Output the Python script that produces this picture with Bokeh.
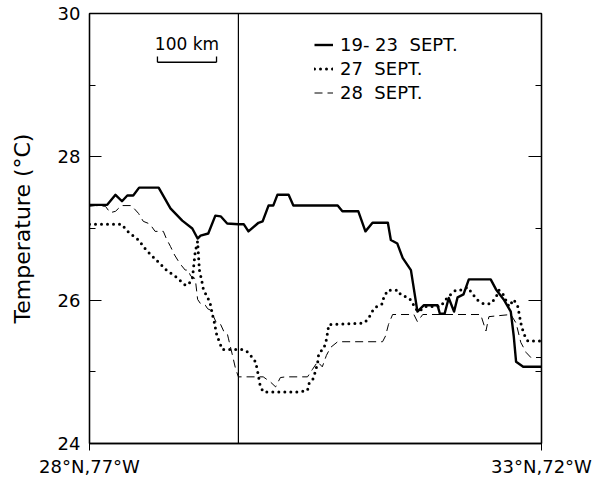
from bokeh.plotting import figure
from bokeh.models import FixedTicker, LinearAxis, Span, Legend, LegendItem, Label, Range1d
from bokeh.embed import file_html
from bokeh.resources import INLINE

# distance along the section (km from 28N,77W) and temperature (deg C)
km_sept19_23 = [0, 30, 44, 55, 64, 74, 84, 117, 137, 157, 174, 183, 188, 201, 213, 222, 233, 252, 261, 269,
                286, 293, 303, 311, 318, 337, 345, 420, 428, 455, 467, 479, 505, 510, 521, 530, 544, 552, 555,
                566, 589, 593, 601, 608, 617, 623, 633, 642, 679, 688, 701, 713, 718, 722, 734, 765]
t_sept19_23 = [27.33, 27.33, 27.47, 27.38, 27.46, 27.46, 27.57, 27.57, 27.28, 27.11, 27.00, 26.86, 26.90, 26.93,
               27.18, 27.17, 27.07, 27.06, 27.06, 26.96, 27.08, 27.10, 27.32, 27.32, 27.47, 27.47, 27.32, 27.32,
               27.24, 27.24, 26.96, 27.08, 27.08, 26.84, 26.79, 26.59, 26.42, 26.00, 25.84, 25.93, 25.93, 25.81,
               25.81, 26.03, 25.84, 26.04, 26.08, 26.29, 26.29, 26.15, 26.01, 25.84, 25.50, 25.14, 25.07, 25.07]

km_sept27 = [0, 54, 66, 83, 96, 113, 130, 147, 162, 166, 174, 179, 183, 186, 190, 193, 200, 205, 208, 211, 215,
             220, 225, 259, 269, 281, 284, 289, 294, 352, 369, 371, 379, 386, 388, 396, 400, 403, 405, 464, 471,
             476, 481, 490, 496, 498, 505, 522, 527, 539, 544, 552, 557, 569, 594, 606, 620, 628, 640, 649, 657,
             667, 679, 688, 693, 700, 710, 718, 725, 730, 735, 742, 765]
t_sept27 = [27.06, 27.06, 26.95, 26.84, 26.70, 26.56, 26.42, 26.32, 26.21, 26.21, 26.29, 26.68, 26.82, 26.42,
            26.27, 26.14, 26.04, 25.93, 25.80, 25.70, 25.53, 25.41, 25.31, 25.31, 25.27, 25.14, 25.03, 24.80,
            24.72, 24.72, 24.74, 24.83, 24.91, 25.12, 25.26, 25.32, 25.41, 25.55, 25.66, 25.68, 25.73, 25.80,
            25.88, 25.93, 25.95, 26.04, 26.14, 26.14, 26.07, 26.04, 26.00, 25.88, 25.84, 25.91, 25.91, 26.04,
            26.14, 26.14, 26.18, 26.08, 26.00, 25.95, 25.95, 26.04, 26.14, 26.08, 25.91, 26.01, 25.91, 25.68,
            25.53, 25.43, 25.43]

km_sept28 = [0, 10, 27, 35, 44, 54, 71, 83, 91, 100, 105, 111, 125, 130, 137, 144, 150, 156, 162, 167, 171, 179,
             183, 188, 196, 200, 205, 210, 215, 222, 227, 233, 235, 242, 247, 252, 294, 306, 315, 323, 332, 369,
             377, 386, 394, 401, 408, 420, 496, 501, 506, 513, 549, 555, 564, 662, 671, 676, 713, 722, 730, 739,
             747, 765]
t_sept28 = [27.31, 27.32, 27.31, 27.22, 27.24, 27.32, 27.32, 27.21, 27.10, 27.07, 27.03, 26.96, 26.96, 26.86,
            26.75, 26.63, 26.55, 26.48, 26.42, 26.42, 26.34, 26.30, 26.01, 25.95, 25.93, 25.88, 25.86, 25.77,
            25.68, 25.66, 25.57, 25.54, 25.47, 25.23, 25.05, 24.93, 24.93, 24.86, 24.79, 24.92, 24.93, 24.93,
            25.03, 25.14, 25.07, 25.23, 25.34, 25.42, 25.42, 25.50, 25.66, 25.80, 25.80, 25.70, 25.80, 25.80,
            25.57, 25.77, 25.80, 25.68, 25.41, 25.27, 25.20, 25.20]

series_labels = ["19- 23  SEPT.", "27  SEPT.", "28  SEPT."]
y_major_ticks = [24, 26, 28, 30]
y_minor_ticks = [25, 27, 29]
x_end_km = 765
x_tick_labels = {0: "28°N,77°W", 765: "33°N,72°W"}
divider_km = 252
scale_km = 100

FONT = "DejaVu Sans"

p = figure(width=596, height=479, output_backend="svg", toolbar_location=None,
           x_range=Range1d(0, x_end_km), y_range=Range1d(24, 30),
           min_border_left=89, min_border_right=55, min_border_top=13, min_border_bottom=36)
p.grid.visible = False
p.outline_line_color = "black"
p.outline_line_width = 1.3
p.background_fill_color = "white"
p.border_fill_color = "white"

# x axis
p.xaxis.ticker = FixedTicker(ticks=[0, x_end_km])
p.xaxis.major_label_overrides = x_tick_labels
p.xaxis.major_tick_in = 0
p.xaxis.major_tick_out = 7
p.xaxis.minor_tick_line_color = None
p.xaxis.major_label_standoff = 5
p.xaxis.major_label_text_font = FONT
p.xaxis.major_label_text_font_size = "18px"
p.xaxis.major_label_text_color = "black"
p.xaxis.axis_line_width = 1.3

# y axis
p.yaxis.ticker = FixedTicker(ticks=y_major_ticks, minor_ticks=y_minor_ticks)
p.yaxis.major_tick_in = 12
p.yaxis.major_tick_out = 0
p.yaxis.minor_tick_in = 6
p.yaxis.minor_tick_out = 0
p.yaxis.major_label_standoff = 9
p.yaxis.major_label_text_font = FONT
p.yaxis.major_label_text_font_size = "18px"
p.yaxis.major_label_text_color = "black"
p.yaxis.axis_label = "Temperature (°C)"
p.yaxis.axis_label_text_font = FONT
p.yaxis.axis_label_text_font_size = "22px"
p.yaxis.axis_label_text_font_style = "normal"
p.yaxis.axis_label_text_color = "black"
p.yaxis.axis_label_standoff = 20
p.yaxis.axis_line_width = 1.3

ry = LinearAxis(ticker=FixedTicker(ticks=y_major_ticks, minor_ticks=y_minor_ticks))
ry.major_tick_in = 13
ry.major_tick_out = 0
ry.minor_tick_in = 6
ry.minor_tick_out = 0
ry.major_label_text_font_size = "0px"
ry.major_label_text_color = None
ry.axis_line_width = 1.3
p.add_layout(ry, "right")

p.add_layout(Span(location=divider_km, dimension="height", line_color="black", line_width=1.2))

r1 = p.line(km_sept19_23, t_sept19_23, line_color="black", line_width=2.4, line_join="round")
r2 = p.line(km_sept27, t_sept27, line_color="black", line_width=3, line_dash="0 6", line_cap="round")
r3 = p.line(km_sept28, t_sept28, line_color="black", line_width=1, line_dash="8 5")

legend = Legend(items=[LegendItem(label=series_labels[0], renderers=[r1]),
                       LegendItem(label=series_labels[1], renderers=[r2]),
                       LegendItem(label=series_labels[2], renderers=[r3])],
                location=(225, 340), orientation="vertical",
                background_fill_alpha=0, border_line_color=None,
                label_text_font=FONT, label_text_font_size="18px", label_text_color="black",
                glyph_width=19, glyph_height=21, label_height=21, spacing=3, padding=0, margin=0,
                label_standoff=7)
p.add_layout(legend)

# 100 km scale bar
sx0 = 115
p.segment(x0=[sx0], y0=[29.32], x1=[sx0 + scale_km], y1=[29.32], line_color="black", line_width=1.3)
p.segment(x0=[sx0, sx0 + scale_km], y0=[29.32, 29.32], x1=[sx0, sx0 + scale_km], y1=[29.40, 29.40],
          line_color="black", line_width=1.3)
p.add_layout(Label(x=sx0 + scale_km / 2, y=29.58, text="100 km", text_align="center", text_baseline="middle",
                   text_font=FONT, text_font_size="17px", text_color="black"))

open("out.html", "w").write(file_html(p, INLINE))
